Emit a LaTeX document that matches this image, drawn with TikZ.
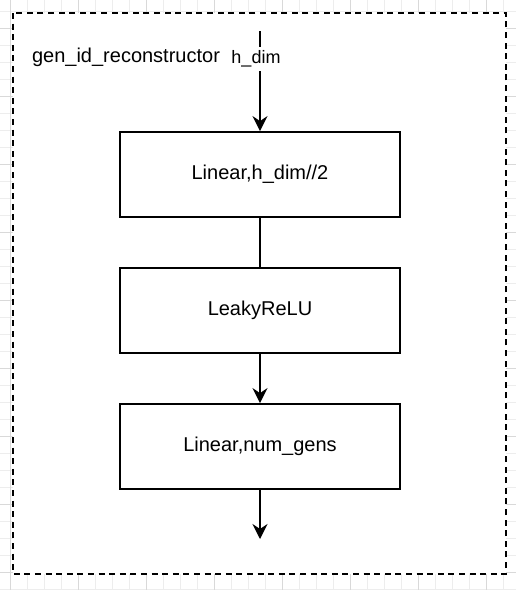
\documentclass[tikz,border=0pt]{standalone}
\usepackage{fontspec}
\setmainfont{Liberation Sans}
\usepackage{xcolor}
\usetikzlibrary{arrows.meta}
\definecolor{cgridminor}{HTML}{EDEDED}
\definecolor{cgridmajor}{HTML}{D9D9D9}

\begin{document}
\begin{tikzpicture}[
    x=0.5pt, y=-0.5pt,
    layer/.style={draw, line width=0.9pt, minimum width=140pt, minimum height=42.5pt, font=\fontsize{10}{12}\selectfont},
    flow/.style={line width=1pt},
    flowarrow/.style={flow, -{Stealth[length=7.5pt, width=7.5pt, inset=2.5pt]}},
    caption/.style={font=\fontsize{10}{12}\selectfont, anchor=west},
]
\useasboundingbox (0,0) rectangle (516,590);
% background grid
\foreach \gx in {10,27,...,516} \draw[cgridminor, line width=0.4pt] (\gx,0) -- (\gx,590);
\foreach \gy in {11,28,...,590} \draw[cgridminor, line width=0.4pt] (0,\gy) -- (516,\gy);
\foreach \gx in {10,78,...,516} \draw[cgridmajor, line width=0.4pt] (\gx,0) -- (\gx,590);
\foreach \gy in {28,96,...,590} \draw[cgridmajor, line width=0.4pt] (0,\gy) -- (516,\gy);
% module frame
\draw[fill=white, line width=0.9pt, dash pattern=on 3pt off 2.3pt] (13,13) rectangle (506,574);
\node[caption] (title) at (25,57) {gen\_id\_reconstructor};
% layers
\node[layer] (lin1) at (260,174.5) {Linear,h\_dim//2};
\node[layer] (relu) at (260,310.5) {LeakyReLU};
\node[layer] (lin2) at (260,446.5) {Linear,num\_gens};
\coordinate (in) at (260,31);
\coordinate (out) at (260,539);
% connectors
\draw[flowarrow] (in) -- node[pos=0.28, fill=white, inner sep=2pt, xshift=-2pt, font=\fontsize{9}{11}\selectfont] (hdim) {h\_dim} (lin1);
\draw[flow] (lin1) -- (relu);
\draw[flowarrow] (relu) -- (lin2);
\draw[flowarrow] (lin2) -- (out);
\end{tikzpicture}
\end{document}
